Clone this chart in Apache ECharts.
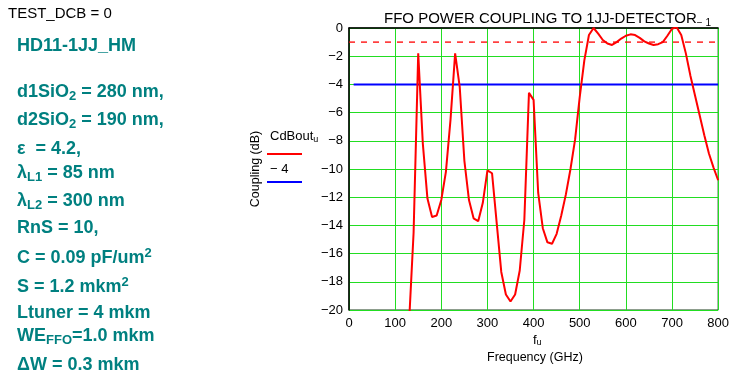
<!DOCTYPE html>
<html><head><meta charset="utf-8">
<script src="https://cdn.jsdelivr.net/npm/echarts@6/dist/echarts.min.js"></script>
<style>html,body{margin:0;padding:0;background:#fff}#c{width:732px;height:379px}</style>
</head><body><div id="c"></div>
<script>
const freqGHz = [120,130,140,150,160,170,180,190,200,210,220,230,240,250,260,270,280,290,300,310,320,330,340,350,360,370,380,390,400,410,420,430,440,450,460,470,480,490,500,510,520,530,540,550,560,570,580,590,600,610,620,630,640,650,660,670,680,690,700,710,720,730,740,750,760,770,780,790,800];
const couplingDb = [-27,-21,-14.5,-1.8,-8.2,-12.1,-13.4,-13.3,-12.2,-10.2,-6.5,-1.8,-4.2,-9.4,-12.2,-13.5,-13.7,-12.4,-10.1,-10.3,-13.8,-17.3,-18.9,-19.4,-18.9,-17.2,-13.6,-4.6,-5.1,-11.7,-14.2,-15.2,-15.3,-14.6,-13.3,-11.8,-10.0,-7.9,-4.9,-2.3,-0.5,0,-0.4,-0.85,-1.1,-1.2,-1.0,-0.75,-0.55,-0.45,-0.5,-0.7,-0.95,-1.1,-1.2,-1.15,-1.0,-0.55,-0.05,0.05,-0.5,-1.8,-3.4,-4.8,-6.2,-7.6,-8.9,-9.9,-10.8];
const refLevelDb = -1;
const thresholdDb = -4;
const refLineX = [0, 800];
const thresholdLineX = [10, 800];
const xAxisRange = [0, 800, 100];
const yAxisRange = [-20, 0, 2];

const FONT = '"Liberation Sans", Arial, sans-serif';
const TEAL = '#008080';
const chart = echarts.init(document.getElementById('c'), null, {renderer:'canvas'});

const n = {fontSize:18, fontWeight:'bold', fontFamily:FONT, fill:TEAL, lineHeight:22, verticalAlign:'middle'};
const sb = {fontSize:13, fontWeight:'bold', fontFamily:FONT, fill:TEAL, lineHeight:6, verticalAlign:'bottom'};
const sp = {fontSize:13, fontWeight:'bold', fontFamily:FONT, fill:TEAL, lineHeight:10, verticalAlign:'top'};
const rich = {n, sb, sp};

const leftLines = [
  ['{n|HD11-1JJ_HM}', 48],
  ['{n|d1SiO}{sb|2}{n| = 280 nm,}', 94],
  ['{n|d2SiO}{sb|2}{n| = 190 nm,}', 122],
  ['{n|\u03b5  = 4.2,}', 151],
  ['{n|\u03bb}{sb|L1}{n| = 85 nm}', 175],
  ['{n|\u03bb}{sb|L2}{n| = 300 nm}', 203],
  ['{n|RnS = 10,}', 230],
  ['{n|C = 0.09 pF/um}{sp|2}', 258],
  ['{n|S = 1.2 mkm}{sp|2}', 287],
  ['{n|Ltuner = 4 mkm}', 315],
  ['{n|WE}{sb|FFO}{n|=1.0 mkm}', 338],
  ['{n|\u0394W = 0.3 mkm}', 367]
];

const graphics = leftLines.map(([t, cy]) => ({
  type:'text', left:17, top:cy - 11,
  style:{text:t, rich:rich, font:'bold 18px '+FONT, fill:TEAL}
}));
graphics.push({type:'text', left:8, top:6, style:{text:'TEST_DCB = 0', font:'15px '+FONT, fill:'#000'}});
// legend
graphics.push({type:'text', left:270, top:130, style:{text:'{a|CdBout}{b|u}', rich:{a:{fontSize:13, fontFamily:FONT, fill:'#000', lineHeight:16, verticalAlign:'middle'}, b:{fontSize:9, fontFamily:FONT, fill:'#000', lineHeight:6, verticalAlign:'bottom'}}}});
graphics.push({type:'line', shape:{x1:267, y1:154, x2:302, y2:154}, style:{stroke:'#ff0000', lineWidth:2}});
graphics.push({type:'text', left:270, top:163, style:{text:'\u2212 4', font:'13px '+FONT, fill:'#000'}});
graphics.push({type:'line', shape:{x1:267, y1:182, x2:302, y2:182}, style:{stroke:'#0000ff', lineWidth:2}});
// axis names
graphics.push({type:'text', left:533, top:334, style:{text:'{a|f}{b|u}', rich:{a:{fontSize:13, fontFamily:FONT, fill:'#000', lineHeight:14, verticalAlign:'middle'}, b:{fontSize:9, fontFamily:FONT, fill:'#000', lineHeight:4, verticalAlign:'bottom'}}}});
graphics.push({type:'text', left:487, top:351, style:{text:'Frequency (GHz)', font:'12.5px '+FONT, fill:'#000'}});
graphics.push({type:'text', x:256, y:169, rotation:Math.PI/2, style:{text:'Coupling (dB)', font:'12.5px '+FONT, fill:'#000', align:'center', verticalAlign:'middle'}});

chart.setOption({
  animation:false,
  backgroundColor:'#fff',
  title:{
    text:'{t|FFO POWER COUPLING TO 1JJ-DETECTOR}{s|\u2212 1}',
    left:379, top:5,
    textStyle:{fontWeight:'normal', rich:{t:{fontSize:15, fontWeight:'normal', fontFamily:FONT, color:'#000', lineHeight:18, verticalAlign:'middle'}, s:{fontSize:10, fontWeight:'normal', fontFamily:FONT, color:'#000', lineHeight:16, verticalAlign:'bottom'}}}
  },
  grid:{left:349, right:13, top:28, bottom:69, show:true, borderColor:'#1a3a1a', borderWidth:1},
  xAxis:{
    type:'value', min:xAxisRange[0], max:xAxisRange[1], interval:xAxisRange[2],
    axisLine:{lineStyle:{color:'#000', width:1.5}}, axisTick:{show:false},
    axisLabel:{color:'#000', fontSize:13, fontFamily:FONT, margin:7},
    splitLine:{lineStyle:{color:'#22dd22', width:1}}
  },
  yAxis:{
    type:'value', min:yAxisRange[0], max:yAxisRange[1], interval:yAxisRange[2],
    axisLine:{show:true, lineStyle:{color:'#000', width:1.5}}, axisTick:{show:false},
    axisLabel:{color:'#000', fontSize:13, fontFamily:FONT, margin:6, formatter:v => v < 0 ? '\u2212' + Math.abs(v) : String(v)},
    splitLine:{lineStyle:{color:'#22dd22', width:1}}
  },
  series:[
    {type:'line', data:refLineX.map(x => [x, refLevelDb]), symbol:'none', lineStyle:{color:'#ff0000', width:1.3, type:[6,6]}, z:3},
    {type:'line', data:thresholdLineX.map(x => [x, thresholdDb]), symbol:'none', lineStyle:{color:'#0000ff', width:2}, z:4},
    {type:'line', data:freqGHz.map((f,i) => [f, couplingDb[i]]), symbol:'none', clip:true, lineStyle:{color:'#ff0000', width:2}, z:5}
  ],
  graphic:graphics
});
</script></body></html>
